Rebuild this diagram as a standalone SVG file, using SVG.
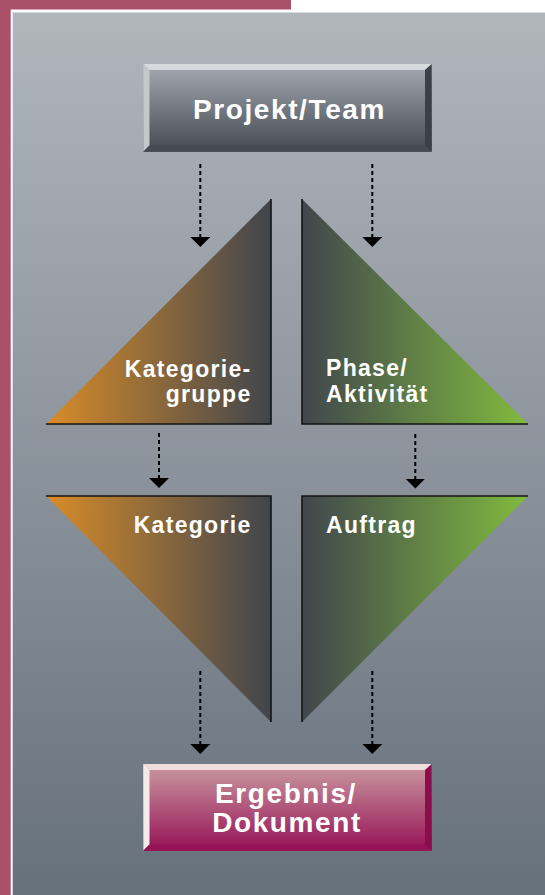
<svg xmlns="http://www.w3.org/2000/svg" width="545" height="895" viewBox="0 0 545 895">
  <defs>
    <linearGradient id="panel" x1="0" y1="0" x2="0" y2="1">
      <stop offset="0" stop-color="#B1B6BD"/>
      <stop offset="1" stop-color="#67717B"/>
    </linearGradient>
    <linearGradient id="greyFace" x1="0" y1="0" x2="0" y2="1">
      <stop offset="0" stop-color="#A5AAB2"/>
      <stop offset="1" stop-color="#444A52"/>
    </linearGradient>
    <linearGradient id="pinkFace" x1="0" y1="0" x2="0" y2="1">
      <stop offset="0" stop-color="#CA9AA0"/>
      <stop offset="1" stop-color="#961256"/>
    </linearGradient>
    <linearGradient id="orange" gradientUnits="userSpaceOnUse" x1="46" y1="0" x2="271" y2="0">
      <stop offset="0" stop-color="#D88C29"/>
      <stop offset="1" stop-color="#40454D"/>
    </linearGradient>
    <linearGradient id="green" gradientUnits="userSpaceOnUse" x1="302" y1="0" x2="528" y2="0">
      <stop offset="0" stop-color="#40464D"/>
      <stop offset="1" stop-color="#80BA3D"/>
    </linearGradient>
    <marker id="head" viewBox="0 0 10 20" refX="10" refY="10" markerWidth="10" markerHeight="20" markerUnits="userSpaceOnUse" orient="auto">
      <path d="M0,0 L10,10 L0,20 Z" fill="#000"/>
    </marker>
  </defs>
  <style>
    .lbl { font-family: "Liberation Sans", Arial, sans-serif; font-weight: bold; fill: #ffffff; }
    .tri { font-size: 23px; letter-spacing: 1.3px; }
    .box { font-size: 28px; letter-spacing: 1.6px; }
    .edge { stroke: #141414; stroke-width: 1.6; fill: none; }
    .conn { stroke: #000; stroke-width: 2; stroke-dasharray: 4 3; fill: none; }
  </style>

  <!-- frame -->
  <rect x="0" y="0" width="545" height="895" fill="#ffffff"/>
  <rect x="0" y="0" width="291" height="9.5" fill="#AB5069"/>
  <rect x="0" y="0" width="10.7" height="895" fill="#AB5069"/>
  <rect x="12.7" y="12" width="533" height="883" fill="url(#panel)"/>
  <line x1="12.7" y1="12.5" x2="545" y2="12.5" stroke="#D6DADE" stroke-width="1"/>

  <!-- connectors -->
  <g id="connectors">
    <line class="conn" x1="200.3" y1="164" x2="200.3" y2="247" marker-end="url(#head)"/>
    <line class="conn" x1="372.3" y1="164" x2="372.3" y2="247" marker-end="url(#head)"/>
    <line class="conn" x1="159" y1="433" x2="159" y2="488" marker-end="url(#head)"/>
    <line class="conn" x1="415.3" y1="434" x2="415.3" y2="488.5" marker-end="url(#head)"/>
    <line class="conn" x1="200.3" y1="671" x2="200.3" y2="754" marker-end="url(#head)"/>
    <line class="conn" x1="372.3" y1="671" x2="372.3" y2="754" marker-end="url(#head)"/>
  </g>

  <!-- Projekt/Team -->
  <g id="projekt-team">
    <rect x="143.3" y="64" width="288.4" height="87.7" fill="url(#greyFace)"/>
    <polygon points="143.3,64 431.7,64 425,70 149.5,70" fill="#D6DADE"/>
    <polygon points="143.3,64 149.5,70 149.5,145.5 143.3,151.7" fill="#C3C8CD"/>
    <polygon points="431.7,64 431.7,151.7 425,145.5 425,70" fill="#3A4048"/>
    <polygon points="143.3,151.7 149.5,145.5 425,145.5 431.7,151.7" fill="#454B53"/>
    <text class="lbl box" x="289.5" y="118.5" text-anchor="middle">Projekt/Team</text>
  </g>

  <!-- Kategoriegruppe -->
  <g id="kategoriegruppe">
    <polygon points="46,424 271,199 271,424" fill="url(#orange)"/>
    <polyline class="edge" points="271,199 271,424 46,424"/>
    <text class="lbl tri" x="251.5" y="377" text-anchor="end">Kategorie-</text>
    <text class="lbl tri" x="251.5" y="402" text-anchor="end">gruppe</text>
  </g>

  <!-- Phase/Aktivität -->
  <g id="phase-aktivitaet">
    <polygon points="302,199 302,424 528,424" fill="url(#green)"/>
    <polyline class="edge" points="302,199 302,424 528,424"/>
    <text class="lbl tri" x="326" y="376">Phase/</text>
    <text class="lbl tri" x="326" y="402">Aktivität</text>
  </g>

  <!-- Kategorie -->
  <g id="kategorie">
    <polygon points="46,496 271,496 271,722" fill="url(#orange)"/>
    <polyline class="edge" points="46,496 271,496 271,722"/>
    <text class="lbl tri" x="251.5" y="533" text-anchor="end">Kategorie</text>
  </g>

  <!-- Auftrag -->
  <g id="auftrag">
    <polygon points="302,496 528,496 302,722" fill="url(#green)"/>
    <polyline class="edge" points="528,496 302,496 302,722"/>
    <text class="lbl tri" x="326" y="533">Auftrag</text>
  </g>

  <!-- Ergebnis/Dokument -->
  <g id="ergebnis-dokument">
    <rect x="143.3" y="764" width="288.4" height="86.7" fill="url(#pinkFace)"/>
    <polygon points="143.3,764 431.7,764 425,770 149.5,770" fill="#EFDCDC"/>
    <polygon points="143.3,764 149.5,770 149.5,844.5 143.3,850.7" fill="#F5EAEA"/>
    <polygon points="431.7,764 431.7,850.7 425,844.5 425,770" fill="#8C0D4B"/>
    <polygon points="143.3,850.7 149.5,844.5 425,844.5 431.7,850.7" fill="#961256"/>
    <text class="lbl box" x="286" y="803" text-anchor="middle">Ergebnis/</text>
    <text class="lbl box" x="287" y="832" text-anchor="middle">Dokument</text>
  </g>
</svg>
